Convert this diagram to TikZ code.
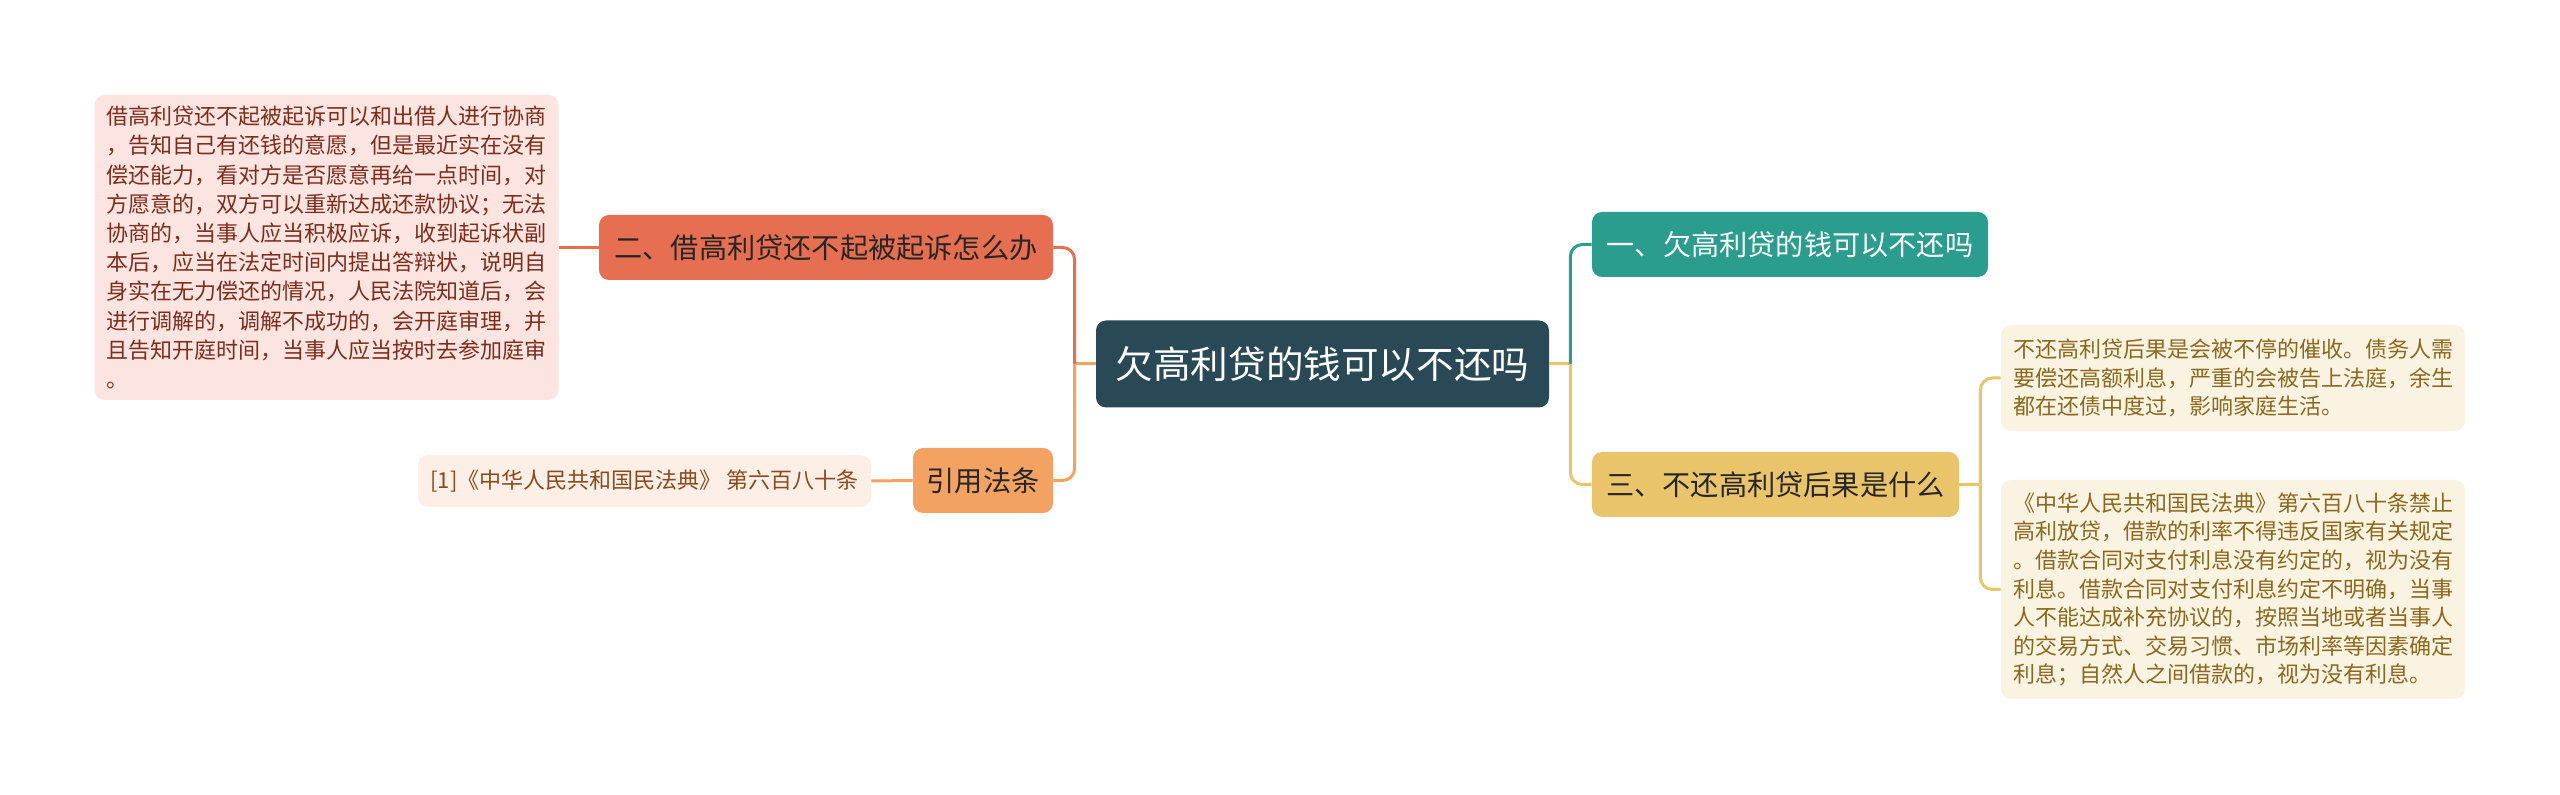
\documentclass[tikz,border=0pt]{standalone}
\usepackage{fontspec}
\setmainfont{Noto Sans CJK SC}
\usetikzlibrary{positioning}

\definecolor{rootc}{HTML}{294957}
\definecolor{tealc}{HTML}{2A9D8F}
\definecolor{sandc}{HTML}{E9C46A}
\definecolor{coralc}{HTML}{E76F51}
\definecolor{peachc}{HTML}{F4A261}
\definecolor{pinkbg}{HTML}{FCE5E0}
\definecolor{peachbg}{HTML}{FDEFE5}
\definecolor{sandbg}{HTML}{FBF3E2}
\definecolor{pinktx}{HTML}{7E2D1C}
\definecolor{peachtx}{HTML}{8A4A1C}
\definecolor{sandtx}{HTML}{8A681C}

\tikzset{
  topic/.style={rounded corners=5pt, inner sep=0pt, align=center,
    font=\fontsize{14.1}{17}\selectfont, minimum height=32.5pt},
  leaf/.style={rounded corners=5pt, inner xsep=6pt, inner ysep=0pt, align=left,
    font=\fontsize{11}{14.3}\selectfont},
  link/.style={line width=1.5pt},
  elbow/.style={link, rounded corners=6pt}
}

\begin{document}
\begin{tikzpicture}[x=0.5pt, y=-0.5pt]
  \useasboundingbox (0,0) rectangle (2560,795);
  \fill[white] (0,0) rectangle (2560,795);

  % centre
  \node[rounded corners=5pt, fill=rootc, text=white, inner sep=0pt,
        minimum width=226.5pt, minimum height=43.5pt,
        font=\fontsize{18.8}{22}\selectfont] (root) at (1322.5,364) {欠高利贷的钱可以不还吗};

  % right side
  \node[topic, fill=tealc, text=white, minimum width=198pt] (b1) at (1790,244.5) {一、欠高利贷的钱可以不还吗};
  \node[topic, fill=sandc, text=black!85, minimum width=183.5pt] (b3) at (1775.5,484.5) {三、不还高利贷后果是什么};
  \node[leaf, fill=sandbg, text=sandtx, minimum width=231pt, minimum height=53pt] (r1) at (2233,378)
    {不还高利贷后果是会被不停的催收。债务人需\\要偿还高额利息，严重的会被告上法庭，余生\\都在还债中度过，影响家庭生活。};
  \node[leaf, fill=sandbg, text=sandtx, minimum width=231pt, minimum height=109.5pt] (r2) at (2233,589.5)
    {《中华人民共和国民法典》第六百八十条禁止\\高利放贷，借款的利率不得违反国家有关规定\\。借款合同对支付利息没有约定的，视为没有\\利息。借款合同对支付利息约定不明确，当事\\人不能达成补充协议的，按照当地或者当事人\\的交易方式、交易习惯、市场利率等因素确定\\利息；自然人之间借款的，视为没有利息。};

  % left side
  \node[topic, fill=coralc, text=black!85, minimum width=227pt] (b2) at (826,247.5) {二、借高利贷还不起被起诉怎么办};
  \node[topic, fill=peachc, text=black!85, minimum width=70pt] (b4) at (983,480.5) {引用法条};
  \node[leaf, fill=pinkbg, text=pinktx, minimum width=231.5pt, minimum height=152.5pt,
        font=\fontsize{11}{14.6}\selectfont] (l1) at (326.5,247.5)
    {借高利贷还不起被起诉可以和出借人进行协商\\，告知自己有还钱的意愿，但是最近实在没有\\偿还能力，看对方是否愿意再给一点时间，对\\方愿意的，双方可以重新达成还款协议；无法\\协商的，当事人应当积极应诉，收到起诉状副\\本后，应当在法定时间内提出答辩状，说明自\\身实在无力偿还的情况，人民法院知道后，会\\进行调解的，调解不成功的，会开庭审理，并\\且告知开庭时间，当事人应当按时去参加庭审\\。};
  \node[leaf, fill=peachbg, text=peachtx, minimum width=226.5pt, minimum height=26pt] (l2) at (644.5,481)
    {[1]《中华人民共和国民法典》 第六百八十条};

  % junctions
  \coordinate[left=10.5pt of root.west] (jl);
  \coordinate[right=10.5pt of root.east] (jr);
  \coordinate[right=10.5pt of b3.east] (jr3);

  % connectors
  \draw[link, peachc] (root.west) -- (jl);
  \draw[elbow, coralc] (jl) |- (b2.east);
  \draw[elbow, peachc] (jl) |- (b4.east);
  \draw[link, coralc] (b2.west) -- (l1.east |- b2.west);
  \draw[link, peachc] (b4.west) -- (l2.east);

  \draw[link, sandc] (root.east) -- (jr);
  \draw[elbow, tealc] (jr) |- (b1.west);
  \draw[elbow, sandc] (jr) |- (b3.west);
  \draw[link, sandc] (b3.east) -- (jr3);
  \draw[elbow, sandc] (jr3) |- (r1.west);
  \draw[elbow, sandc] (jr3) |- (r2.west);
\end{tikzpicture}
\end{document}
